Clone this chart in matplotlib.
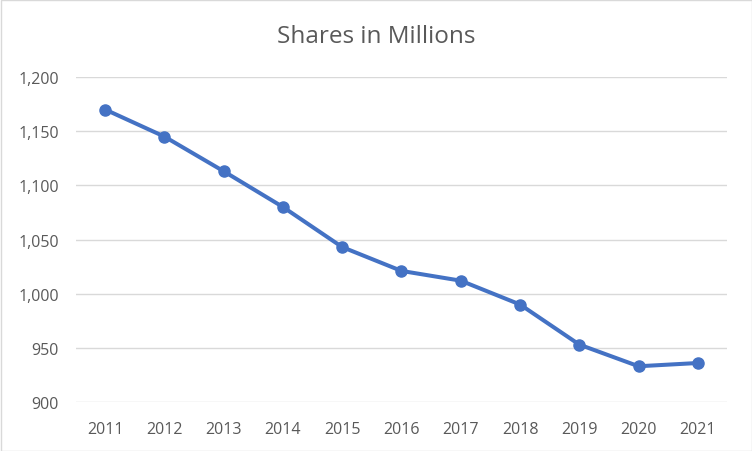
import matplotlib
matplotlib.use("Agg")
import matplotlib.pyplot as plt
from matplotlib.patches import Rectangle
from matplotlib.ticker import FuncFormatter

# ── Data ──────────────────────────────────────────────────────────────────────
years  = ["2011", "2012", "2013", "2014", "2015", "2016",
          "2017", "2018", "2019", "2020", "2021"]
shares = [1170, 1145, 1113, 1080, 1043, 1021, 1012, 990, 953, 933, 936]

# ── Style ─────────────────────────────────────────────────────────────────────
LINE  = "#4472C4"
TEXT  = "#595959"
GRID  = "#D9D9D9"
plt.rcParams["font.family"] = ["Open Sans", "DejaVu Sans"]

fig = plt.figure(figsize=(7.52, 4.52), dpi=100, facecolor="white")
ax = fig.add_axes([0.1004, 0.1084, 0.867, 0.719])

x = range(len(years))
ax.plot(x, shares, color=LINE, linewidth=2.9, marker="o", markersize=8,
        solid_capstyle="round", zorder=3, clip_on=False)

ax.set_xlim(-0.5, len(years) - 0.5)
ax.set_ylim(900, 1200)
ax.set_yticks(range(900, 1201, 50))
ax.yaxis.set_major_formatter(FuncFormatter(lambda v, _: f"{v:,.0f}"))
ax.set_xticks(list(x))
ax.set_xticklabels(years)

for s in ax.spines.values():
    s.set_visible(False)
ax.grid(axis="y", color=GRID, linewidth=1.0, zorder=0)
ax.set_axisbelow(True)
ax.tick_params(axis="both", length=0, colors=TEXT, labelsize=11.5)
ax.tick_params(axis="y", pad=12)
ax.tick_params(axis="x", pad=14)

fig.text(0.5, 0.918, "Shares in Millions", ha="center", va="center",
         fontsize=17.5, color=TEXT)

# outer chart border
fig.patches.append(Rectangle((0.5 / 752, 0.5 / 452), 751 / 752, 451 / 452,
                             transform=fig.transFigure, fill=False,
                             edgecolor=GRID, linewidth=1.0))

fig.savefig("out.png", dpi=100, facecolor="white")
